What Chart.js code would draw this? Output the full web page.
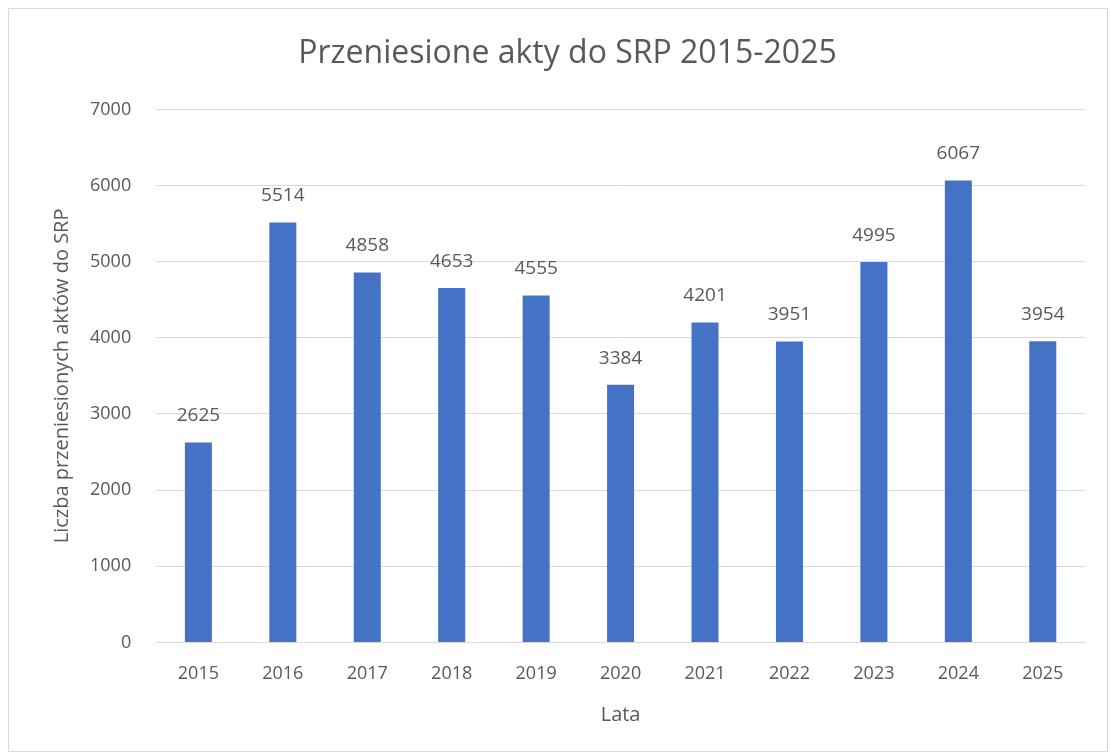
<!DOCTYPE html>
<html>
<head>
<meta charset="utf-8">
<script src="https://cdn.jsdelivr.net/npm/chart.js@4.4.1/dist/chart.umd.min.js"></script>
<style>
  html, body { margin: 0; padding: 0; background: #fff; }
  #wrap { position: absolute; left: 8px; top: 8px; width: 1100px; height: 744px; border: 1px solid #d9d9d9; box-sizing: border-box; }
</style>
</head>
<body>
<div id="wrap"><canvas id="myChart"></canvas></div>
<script>
// data
const years = ["2015", "2016", "2017", "2018", "2019", "2020", "2021", "2022", "2023", "2024", "2025"];
const counts = [2625, 5514, 4858, 4653, 4555, 3384, 4201, 3951, 4995, 6067, 3954];
const yTicks = [0, 1000, 2000, 3000, 4000, 5000, 6000, 7000];

const textColor = "#595959";
const fontFamily = "'Open Sans', 'Liberation Sans', sans-serif";

// draws the value above each bar (no datalabels plugin available offline)
const valueLabels = {
  id: "valueLabels",
  afterDatasetsDraw(chart) {
    const ctx = chart.ctx;
    const meta = chart.getDatasetMeta(0);
    ctx.save();
    ctx.fillStyle = textColor;
    ctx.font = "19px " + fontFamily;
    ctx.textAlign = "center";
    ctx.textBaseline = "bottom";
    meta.data.forEach((bar, i) => {
      ctx.fillText(String(counts[i]), bar.x, bar.y - 17);
    });
    ctx.restore();
  }
};

const canvas = document.getElementById("myChart");
canvas.width = 1098;
canvas.height = 742;

new Chart(canvas.getContext("2d"), {
  type: "bar",
  data: {
    labels: years,
    datasets: [{
      label: "Liczba",
      data: counts,
      backgroundColor: "#4472c4",
      barPercentage: 0.32,
      categoryPercentage: 1.0
    }]
  },
  options: {
    responsive: false,
    animation: false,
    layout: { padding: { left: 41, right: 22, top: 14, bottom: 20 } },
    plugins: {
      legend: { display: false },
      tooltip: { enabled: false },
      title: {
        display: true,
        text: "Przeniesione akty do SRP 2015-2025",
        color: textColor,
        font: { family: fontFamily, size: 32, weight: "normal" },
        padding: { top: 12, bottom: 36 }
      }
    },
    scales: {
      x: {
        grid: { display: false },
        border: { color: "#d9d9d9" },
        ticks: { color: textColor, font: { family: fontFamily, size: 18 }, padding: 13 },
        title: { display: true, text: "Lata", color: textColor, font: { family: fontFamily, size: 20 }, padding: { top: 5 } }
      },
      y: {
        min: 0,
        max: 7000,
        afterBuildTicks(axis) { axis.ticks = yTicks.map(v => ({ value: v })); },
        grid: { color: "#d9d9d9", drawTicks: false },
        border: { display: false },
        ticks: { color: textColor, font: { family: fontFamily, size: 18 }, padding: 25, callback: v => String(v) },
        title: { display: true, text: "Liczba przeniesionych aktów do SRP", color: textColor, font: { family: fontFamily, size: 20 }, padding: { top: 0, bottom: -9 } }
      }
    }
  },
  plugins: [valueLabels]
});
</script>
</body>
</html>
